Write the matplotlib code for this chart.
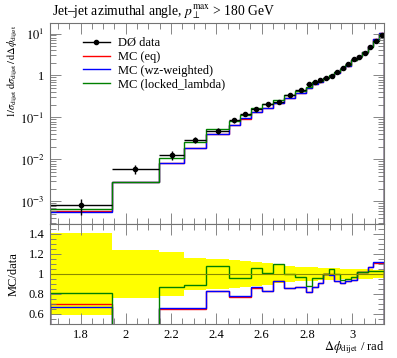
import numpy as np
import matplotlib
matplotlib.use("Agg")
import matplotlib.pyplot as plt
from matplotlib.ticker import MultipleLocator, FixedLocator, LogLocator, NullFormatter, FixedFormatter
from matplotlib.lines import Line2D

# BIN EDGES (rad)
edges = [1.663, 1.938, 2.147, 2.258, 2.356, 2.454, 2.503, 2.553, 2.601, 2.651,
         2.700, 2.749, 2.798, 2.822, 2.847, 2.872, 2.896, 2.921, 2.945, 2.970,
         2.994, 3.019, 3.043, 3.068, 3.092, 3.117, 3.1416]

# D0 DATA (1/sigma dsigma/dphi) AND RELATIVE ERROR
data = [8.3e-4, 5.85e-3, 1.28e-2, 2.91e-2, 4.8e-2, 8.6e-2, 0.122, 0.155, 0.205, 0.240,
        0.340, 0.450, 0.620, 0.710, 0.780, 0.890, 0.970, 1.23, 1.53, 1.85,
        2.43, 2.80, 3.49, 4.69, 6.60, 9.20]
data_relerr = [0.41, 0.24, 0.22, 0.16, 0.15, 0.14, 0.13, 0.12, 0.11, 0.09,
               0.08, 0.07, 0.07, 0.07, 0.06, 0.06, 0.06, 0.06, 0.05, 0.05,
               0.05, 0.05, 0.05, 0.05, 0.04, 0.04]

# MC CURVES
mc_eq = [5.81e-4, 2.85e-3, 8.32e-3, 1.89e-2, 3.98e-2, 6.62e-2, 0.0939, 0.133, 0.170, 0.223,
         0.292, 0.392, 0.508, 0.618, 0.710, 0.890, 0.970, 1.144, 1.392, 1.721,
         2.296, 2.856, 3.560, 5.018, 7.326, 10.21]
mc_wz = [5.52e-4, 2.85e-3, 8.45e-3, 1.92e-2, 3.98e-2, 6.71e-2, 0.0952, 0.135, 0.170, 0.223,
         0.292, 0.392, 0.508, 0.618, 0.710, 0.886, 0.965, 1.144, 1.392, 1.721,
         2.296, 2.856, 3.560, 5.018, 7.392, 10.30]
mc_locked = [6.72e-4, 2.85e-3, 1.114e-2, 2.59e-2, 5.18e-2, 8.26e-2, 0.117, 0.164, 0.207, 0.264,
             0.340, 0.437, 0.546, 0.682, 0.749, 0.890, 1.019, 1.224, 1.438, 1.758,
             2.357, 2.856, 3.560, 4.831, 6.798, 9.476]

labels = ["MC (eq)", "MC (wz-weighted)", "MC (locked_lambda)"]
colors = ["red", "blue", "green"]

# FONTES
plt.rcParams["font.family"] = "serif"
plt.rcParams["font.serif"] = ["Liberation Serif", "DejaVu Serif"]
plt.rcParams["mathtext.fontset"] = "stix"
plt.rcParams["font.size"] = 9

edges = np.array(edges)
data = np.array(data)
relerr = np.array(data_relerr)
centers = 0.5 * (edges[1:] + edges[:-1])
halfw = 0.5 * (edges[1:] - edges[:-1])

fig = plt.figure(figsize=(3.97, 3.58), dpi=100)
ax1 = fig.add_axes([0.1247, 0.3743, 0.8433, 0.5615])
ax2 = fig.add_axes([0.1247, 0.095, 0.8433, 0.2793], sharex=ax1)

# PAINEL PRINCIPAL
for mc, c in zip([mc_eq, mc_wz, mc_locked], colors):
    ax1.stairs(mc, edges, color=c, lw=1.0)
ax1.errorbar(centers, data, xerr=halfw, yerr=data * relerr, fmt="o", color="black",
             ms=3, lw=1.0, capsize=0)
ax1.set_yscale("log")
ax1.set_ylim(2.91e-4, 17.8)
ax1.set_xlim(edges[0], edges[-1])
ax1.yaxis.set_major_locator(FixedLocator([1e-3, 1e-2, 1e-1, 1, 10]))
ax1.yaxis.set_major_formatter(FixedFormatter(["$10^{-3}$", "$10^{-2}$", "$10^{-1}$", "1", "$10^{1}$"]))
ax1.yaxis.set_minor_locator(LogLocator(base=10, subs=np.arange(2, 10)))
ax1.yaxis.set_minor_formatter(NullFormatter())
ax1.tick_params(labelbottom=False)
ax1.set_ylabel(r"$1/\sigma_{\mathrm{dijet}}\;\mathrm{d}\sigma_{\mathrm{dijet}}\,/\,\mathrm{d}\Delta\phi_{\mathrm{dijet}}$",
               fontsize=7.6, ha="right", va="center")
ax1.yaxis.set_label_coords(-0.108, 0.99)

handles = [Line2D([], [], color="black", marker="o", ms=3, lw=1.0)]
handles += [Line2D([], [], color=c, lw=1.0) for c in colors]
ax1.legend(handles, ["DØ data"] + labels, loc="upper left", bbox_to_anchor=(0.099, 0.93),
           frameon=False, borderpad=0, borderaxespad=0, handlelength=2.2,
           handletextpad=0.6, labelspacing=0.15)

fig.text(52 / 397, 1 - 12 / 358, r"Jet–jet azimuthal angle, $p_{\perp}^{\mathrm{max}}$ > 180 GeV",
         ha="left", va="center", fontsize=9.8)

# PAINEL RAZAO
ax2.stairs(1 + relerr, edges, baseline=1 - relerr, fill=True, color="yellow", lw=0)
ax2.axhline(1, color="#8a8a00", lw=0.8)
for mc, c in zip([mc_eq, mc_wz, mc_locked], colors):
    ax2.stairs(np.array(mc) / data, edges, color=c, lw=1.0)
ax2.set_ylim(0.5, 1.5)
ax2.yaxis.set_major_locator(FixedLocator([0.6, 0.8, 1.0, 1.2, 1.4]))
ax2.yaxis.set_major_formatter(FixedFormatter(["0.6", "0.8", "1", "1.2", "1.4"]))
ax2.yaxis.set_minor_locator(MultipleLocator(0.05))
ax2.xaxis.set_major_locator(FixedLocator([1.8, 2.0, 2.2, 2.4, 2.6, 2.8, 3.0]))
ax2.xaxis.set_major_formatter(FixedFormatter(["1.8", "2", "2.2", "2.4", "2.6", "2.8", "3"]))
ax2.xaxis.set_minor_locator(MultipleLocator(0.05))
ax2.set_ylabel("MC/data", va="center")
ax2.yaxis.set_label_coords(-0.108, 0.5)
ax2.set_xlabel(r"$\Delta\phi_{\mathrm{dijet}}$ / rad", ha="right", va="center")
ax2.xaxis.set_label_coords(1.0, -0.24)

for ax in (ax1, ax2):
    ax.tick_params(which="both", direction="in", top=True, right=True, color="0.45", width=0.6)
    ax.tick_params(which="major", length=8)
    ax.tick_params(which="minor", length=4)
    for s in ax.spines.values():
        s.set_color("0.45")
        s.set_linewidth(0.8)

plt.savefig("out.png", dpi=100)
